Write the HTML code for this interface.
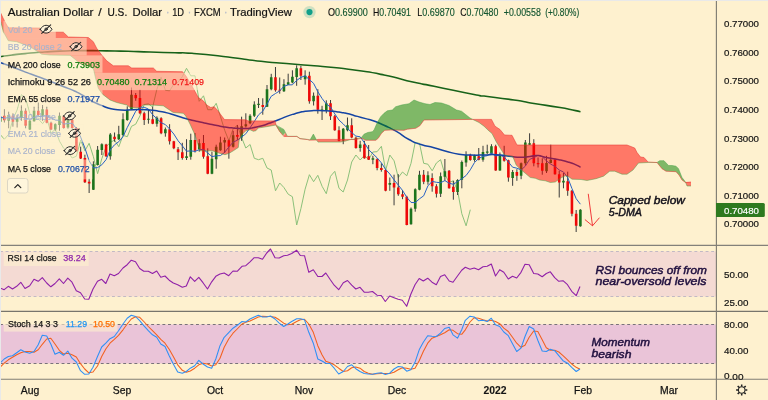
<!DOCTYPE html>
<html lang="en"><head><meta charset="utf-8"><title>Australian Dollar / U.S. Dollar</title>
<style>
html,body{margin:0;padding:0;background:#fef1cf;}
body{width:768px;height:400px;overflow:hidden;}
svg{display:block;}
text{font-family:"Liberation Sans","DejaVu Sans",sans-serif;}
</style></head><body>
<svg width="768" height="400" viewBox="0 0 768 400">
<rect x="0" y="0" width="768" height="400" fill="#fef1cf"/>
<g id="rsi-band">
<rect x="0" y="251.5" width="716" height="45" fill="#9915ff" fill-opacity="0.10"/>
<line x1="0" y1="251.5" x2="716" y2="251.5" stroke="#c2b9c4" stroke-width="1" stroke-dasharray="2.9,2.7"/>
<line x1="0" y1="296.5" x2="716" y2="296.5" stroke="#c2b9c4" stroke-width="1" stroke-dasharray="2.9,2.7"/>
</g>
<g id="stoch-band">
<rect x="0" y="324.5" width="716" height="39" fill="#9915ff" fill-opacity="0.20"/>
<line x1="0" y1="324.5" x2="716" y2="324.5" stroke="#78727a" stroke-width="1" stroke-dasharray="2.9,2.7"/>
<line x1="0" y1="363.5" x2="716" y2="363.5" stroke="#78727a" stroke-width="1" stroke-dasharray="2.9,2.7"/>
</g>
<g id="main" clip-path="url(#cm)">
<defs><clipPath id="cm"><rect x="0" y="0" width="716" height="245"/></clipPath></defs>
<path d="M-4.0,156.3 L0.2,134.5 L4.4,139.2 L8.7,134.2 L12.9,119.2 L17.1,110.0 L21.4,94.7 L25.6,98.3 L29.8,113.3 L34.1,120.0 L38.3,118.8 L42.6,123.7 L46.8,117.8 L51.0,133.3 L55.3,129.2 L59.5,141.2 L63.7,148.3 L68.0,152.2 L72.2,158.0 L76.4,156.2 L80.7,140.0 L84.9,150.8 L89.1,143.3 L93.4,156.7 L97.6,173.7 L101.8,158.7 L106.1,146.7 L110.3,142.5 L114.5,140.0 L118.8,146.7 L123.0,135.3 L127.3,136.7 L131.5,126.3 L135.7,124.2 L140.0,115.8 L144.2,104.5 L148.4,103.8 L152.7,107.0 L156.9,89.2 L161.1,77.2 L165.4,90.3 L169.6,90.8 L173.8,84.2 L178.1,82.2 L182.3,76.7 L186.5,68.3 L190.8,75.8 L195.0,75.8 L199.2,101.3 L203.5,95.8 L207.7,109.7 L212.0,109.7 L216.2,103.3 L220.4,116.3 L224.7,130.3 L228.9,140.8 L233.1,128.8 L237.4,125.3 L241.6,137.5 L245.8,148.0 L250.1,144.5 L254.3,158.3 L258.5,159.7 L262.8,158.3 L267.0,168.0 L271.2,170.0 L275.5,190.8 L279.7,183.0 L283.9,187.5 L288.2,194.2 L292.4,196.7 L296.7,225.0 L300.9,208.7 L305.1,189.2 L309.4,174.7 L313.6,181.7 L317.8,175.3 L322.1,186.3 L326.3,193.7 L330.5,176.3 L334.8,171.3 L339.0,188.3 L343.2,192.0 L347.5,180.0 L351.7,162.0 L355.9,155.0 L360.2,160.0 L364.4,155.3 L368.6,159.7 L372.9,152.0 L377.1,151.7 L381.4,146.3 L385.6,170.5 L389.8,155.0 L394.1,160.8 L398.3,177.5 L402.5,172.0 L406.8,175.8 L411.0,163.3 L415.2,142.5 L419.5,143.3 L423.7,163.3 L427.9,164.2 L432.2,170.8 L436.4,163.0 L440.6,159.7 L444.9,174.2 L449.1,182.5 L453.3,180.8 L457.6,190.8 L461.8,213.7 L466.1,225.8 L470.3,209.7" fill="none" stroke="#8cc17a" stroke-width="1" stroke-linejoin="round"/>
<path d="M0.20,115.0V123.3M4.44,109.2V122.5M8.67,111.7V128.3M12.91,113.3V126.7M17.14,115.0V127.5M21.38,105.3V120.8M25.61,108.3V128.3M29.85,120.0V130.0M34.08,106.7V121.7M38.32,102.5V115.8M42.55,105.0V120.8M46.79,106.7V123.3M51.02,121.7V130.0M55.26,123.3V130.8M59.49,112.5V130.8M63.73,115.8V128.7M67.96,119.2V128.7M72.20,119.2V128.7M76.43,127.0V151.7M80.67,146.7V159.0M84.90,154.7V183.0M89.14,178.8V193.0M93.37,161.3V190.0M97.61,146.0V165.5M101.84,143.3V155.0M106.08,143.8V157.0M110.31,133.0V159.7M114.55,132.5V141.7M118.78,125.8V140.0M123.02,113.3V135.8M127.25,106.3V120.8M131.49,87.5V109.7M135.72,93.0V100.8M139.96,89.7V114.2M144.19,111.7V125.0M148.43,109.2V123.7M152.66,106.7V124.2M156.90,116.3V126.7M161.13,117.2V134.2M165.37,127.5V136.7M169.60,124.2V144.5M173.84,140.8V149.2M178.07,147.0V160.0M182.31,142.8V159.7M186.54,139.2V160.0M190.78,133.7V159.7M195.01,133.0V152.5M199.25,139.2V151.7M203.48,135.0V158.7M207.72,148.3V174.2M211.95,151.7V174.2M216.19,144.7V168.7M220.42,136.7V150.8M224.66,137.5V153.0M228.89,139.7V158.7M233.13,130.8V147.5M237.36,125.0V140.0M241.60,116.7V140.8M245.83,113.3V127.5M250.07,114.2V124.2M254.30,101.3V117.0M258.54,98.0V108.0M262.77,98.3V114.7M267.01,85.0V107.0M271.24,73.8V90.3M275.48,67.0V91.7M279.71,77.5V93.7M283.95,79.2V92.0M288.18,73.7V85.0M292.42,70.3V83.3M296.65,65.3V85.8M300.89,65.8V80.0M305.12,70.3V84.7M309.36,71.7V103.7M313.59,92.5V105.5M317.83,89.2V113.7M322.06,105.8V120.0M326.30,100.3V113.3M330.53,100.0V120.0M334.77,115.0V130.8M339.00,126.3V141.3M343.24,128.0V144.2M347.47,117.5V131.3M351.71,118.3V138.3M355.94,136.7V148.7M360.18,140.8V151.7M364.41,140.8V158.7M368.65,145.0V160.0M372.88,155.8V164.2M377.12,158.3V170.3M381.35,163.3V171.7M385.59,169.2V191.3M389.82,177.5V190.8M394.06,174.7V205.3M398.29,174.2V195.8M402.53,190.0V199.2M406.76,195.8V225.3M411.00,207.5V224.7M415.23,188.3V211.7M419.47,170.8V190.3M423.70,170.0V184.2M427.94,171.3V184.7M432.17,173.3V191.7M436.41,184.2V197.5M440.64,172.5V197.0M444.88,159.0V180.8M449.12,170.0V188.7M453.35,180.8V199.7M457.58,179.2V195.0M461.82,160.5V188.3M466.05,151.3V166.7M470.29,153.7V160.8M474.52,154.7V161.7M478.76,148.0V160.3M483.00,145.8V161.7M487.23,144.7V154.2M491.46,144.2V153.8M495.70,144.7V170.8M499.93,152.5V170.8M504.17,145.8V161.7M508.40,159.7V181.7M512.64,170.0V185.8M516.88,169.2V180.8M521.11,162.5V179.2M525.35,140.0V165.8M529.58,133.3V145.0M533.81,139.2V166.3M538.05,157.5V167.5M542.28,158.3V174.7M546.52,155.8V173.0M550.75,144.7V163.3M554.99,158.7V174.7M559.23,170.8V197.5M563.46,173.0V188.3M567.69,171.7V195.8M571.93,190.0V216.3M576.16,210.0V232.0M580.40,209.2V226.7" stroke="#3c3c3c" stroke-width="1" fill="none"/>
<path d="M-1.10,116.7h2.6V121.7h-2.6ZM7.37,115.0h2.6V120.8h-2.6ZM15.84,117.5h2.6V121.7h-2.6ZM20.08,110.8h2.6V117.5h-2.6ZM28.55,120.8h2.6V129.5h-2.6ZM32.78,110.8h2.6V121.2h-2.6ZM41.25,109.2h2.6V115.8h-2.6ZM53.96,124.2h2.6V129.5h-2.6ZM58.19,115.8h2.6V125.0h-2.6ZM66.66,120.0h2.6V127.5h-2.6ZM92.07,164.3h2.6V189.7h-2.6ZM96.31,149.7h2.6V165.0h-2.6ZM100.54,144.2h2.6V150.0h-2.6ZM109.01,134.5h2.6V156.3h-2.6ZM117.48,134.2h2.6V139.2h-2.6ZM121.72,119.2h2.6V135.0h-2.6ZM125.95,110.0h2.6V120.0h-2.6ZM130.19,94.7h2.6V109.2h-2.6ZM147.13,118.7h2.6V119.8h-2.6ZM155.60,117.8h2.6V123.7h-2.6ZM164.07,129.2h2.6V133.3h-2.6ZM185.24,156.2h2.6V158.0h-2.6ZM189.48,140.0h2.6V156.7h-2.6ZM197.95,143.3h2.6V149.2h-2.6ZM210.65,158.7h2.6V173.7h-2.6ZM214.89,146.7h2.6V159.2h-2.6ZM219.12,142.5h2.6V150.3h-2.6ZM223.36,140.0h2.6V142.5h-2.6ZM231.83,135.3h2.6V146.7h-2.6ZM240.30,126.3h2.6V137.5h-2.6ZM244.53,124.2h2.6V126.3h-2.6ZM248.77,115.8h2.6V123.3h-2.6ZM253.00,104.5h2.6V115.8h-2.6ZM257.24,103.8h2.6V105.0h-2.6ZM265.71,89.2h2.6V106.7h-2.6ZM269.94,77.2h2.6V89.2h-2.6ZM282.65,84.2h2.6V91.3h-2.6ZM286.88,82.2h2.6V84.7h-2.6ZM291.12,76.7h2.6V82.5h-2.6ZM295.35,68.3h2.6V77.0h-2.6ZM303.82,75.8h2.6V79.2h-2.6ZM312.29,95.8h2.6V101.3h-2.6ZM320.76,109.5h2.6V110.7h-2.6ZM325.00,103.3h2.6V110.3h-2.6ZM341.94,128.8h2.6V140.5h-2.6ZM346.17,125.3h2.6V130.3h-2.6ZM358.88,144.5h2.6V148.0h-2.6ZM371.58,158.3h2.6V159.7h-2.6ZM388.52,183.0h2.6V184.7h-2.6ZM409.70,208.7h2.6V224.2h-2.6ZM413.93,189.2h2.6V208.7h-2.6ZM418.17,174.7h2.6V189.7h-2.6ZM426.64,175.3h2.6V181.7h-2.6ZM439.34,176.3h2.6V193.7h-2.6ZM443.58,171.3h2.6V176.7h-2.6ZM456.28,180.0h2.6V192.0h-2.6ZM460.52,162.0h2.6V179.7h-2.6ZM464.75,155.0h2.6V162.5h-2.6ZM473.22,155.3h2.6V160.0h-2.6ZM481.69,152.0h2.6V159.7h-2.6ZM485.93,151.6h2.6V152.8h-2.6ZM490.16,146.3h2.6V153.3h-2.6ZM498.63,155.0h2.6V170.5h-2.6ZM511.34,172.0h2.6V178.0h-2.6ZM519.81,163.3h2.6V175.8h-2.6ZM524.05,142.5h2.6V163.3h-2.6ZM528.28,143.3h2.6V144.7h-2.6ZM545.22,163.0h2.6V171.3h-2.6ZM549.46,159.7h2.6V163.0h-2.6ZM562.16,180.8h2.6V182.5h-2.6ZM579.10,209.7h2.6V226.3h-2.6Z" fill="#1c741c"/>
<path d="M3.14,115.8h2.6V120.3h-2.6ZM11.61,115.8h2.6V121.7h-2.6ZM24.31,110.8h2.6V125.8h-2.6ZM37.02,110.8h2.6V115.0h-2.6ZM45.49,109.5h2.6V122.8h-2.6ZM49.72,122.8h2.6V129.5h-2.6ZM62.43,116.3h2.6V128.0h-2.6ZM70.90,119.7h2.6V128.0h-2.6ZM75.13,128.0h2.6V151.3h-2.6ZM79.37,151.8h2.6V158.5h-2.6ZM83.60,158.0h2.6V182.2h-2.6ZM87.84,181.7h2.6V183.5h-2.6ZM104.78,144.5h2.6V156.3h-2.6ZM113.25,136.7h2.6V139.2h-2.6ZM134.42,95.0h2.6V98.3h-2.6ZM138.66,98.0h2.6V113.3h-2.6ZM142.89,113.3h2.6V120.0h-2.6ZM151.36,119.2h2.6V123.7h-2.6ZM159.83,118.3h2.6V133.3h-2.6ZM168.30,129.2h2.6V141.2h-2.6ZM172.54,141.2h2.6V148.3h-2.6ZM176.77,149.2h2.6V152.2h-2.6ZM181.01,152.2h2.6V158.0h-2.6ZM193.71,140.0h2.6V150.8h-2.6ZM202.18,143.0h2.6V156.7h-2.6ZM206.42,156.3h2.6V173.7h-2.6ZM227.59,140.3h2.6V146.7h-2.6ZM236.06,135.0h2.6V136.7h-2.6ZM261.47,105.0h2.6V107.0h-2.6ZM274.18,77.2h2.6V90.3h-2.6ZM278.41,89.7h2.6V90.8h-2.6ZM299.59,68.3h2.6V75.8h-2.6ZM308.06,75.8h2.6V101.3h-2.6ZM316.53,95.8h2.6V109.7h-2.6ZM329.23,103.3h2.6V116.3h-2.6ZM333.47,116.3h2.6V130.3h-2.6ZM337.70,130.3h2.6V140.8h-2.6ZM350.41,125.3h2.6V137.5h-2.6ZM354.64,137.8h2.6V148.0h-2.6ZM363.11,144.5h2.6V158.3h-2.6ZM367.35,156.3h2.6V159.7h-2.6ZM375.82,159.2h2.6V168.0h-2.6ZM380.05,168.0h2.6V170.0h-2.6ZM384.29,170.0h2.6V190.8h-2.6ZM392.76,183.0h2.6V187.5h-2.6ZM396.99,187.5h2.6V194.2h-2.6ZM401.23,194.2h2.6V196.7h-2.6ZM405.46,196.7h2.6V225.0h-2.6ZM422.40,174.7h2.6V181.7h-2.6ZM430.87,178.0h2.6V186.3h-2.6ZM435.11,186.3h2.6V193.7h-2.6ZM447.81,170.8h2.6V188.3h-2.6ZM452.05,186.7h2.6V192.0h-2.6ZM468.99,155.0h2.6V160.0h-2.6ZM477.46,156.2h2.6V159.7h-2.6ZM494.40,146.3h2.6V170.5h-2.6ZM502.87,155.8h2.6V160.8h-2.6ZM507.10,160.3h2.6V177.5h-2.6ZM515.58,172.0h2.6V175.8h-2.6ZM532.51,143.3h2.6V163.3h-2.6ZM536.75,163.0h2.6V164.2h-2.6ZM540.99,163.3h2.6V170.8h-2.6ZM553.69,159.7h2.6V174.2h-2.6ZM557.93,174.2h2.6V182.5h-2.6ZM566.39,181.3h2.6V190.8h-2.6ZM570.63,190.8h2.6V213.7h-2.6ZM574.87,213.7h2.6V225.8h-2.6Z" fill="#ee0808"/>
<path d="M0.2,116.7 L4.4,118.5 L8.7,117.3 L12.9,118.4 L17.1,118.2 L21.4,117.1 L25.6,118.2 L29.8,119.3 L34.1,117.2 L38.3,116.7 L42.6,116.3 L46.8,115.7 L51.0,117.5 L55.3,120.1 L59.5,120.3 L63.7,124.1 L68.0,123.5 L72.2,123.2 L76.4,128.6 L80.7,137.2 L84.9,148.0 L89.1,160.7 L93.4,168.0 L97.6,167.6 L101.8,164.8 L106.1,159.6 L110.3,149.8 L114.5,144.8 L118.8,141.7 L123.0,136.7 L127.3,127.4 L131.5,119.4 L135.7,111.3 L140.0,107.1 L144.2,107.3 L148.4,109.0 L152.7,114.8 L156.9,118.7 L161.1,122.7 L165.4,124.6 L169.6,129.0 L173.8,134.0 L178.1,140.8 L182.3,145.8 L186.5,151.2 L190.8,150.9 L195.0,151.4 L199.2,149.7 L203.5,149.4 L207.7,152.9 L212.0,156.6 L216.2,155.8 L220.4,155.6 L224.7,152.3 L228.9,146.9 L233.1,142.2 L237.4,140.2 L241.6,137.0 L245.8,133.8 L250.1,127.7 L254.3,121.5 L258.5,114.9 L262.8,111.1 L267.0,104.1 L271.2,96.3 L275.5,93.5 L279.7,90.9 L283.9,86.3 L288.2,84.9 L292.4,84.8 L296.7,80.4 L300.9,77.4 L305.1,75.8 L309.4,79.6 L313.6,83.4 L317.8,91.7 L322.1,98.5 L326.3,104.0 L330.5,107.0 L334.8,113.9 L339.0,120.1 L343.2,123.9 L347.5,128.3 L351.7,132.6 L355.9,136.1 L360.2,136.8 L364.4,142.7 L368.6,149.6 L372.9,153.8 L377.1,157.8 L381.4,162.9 L385.6,169.4 L389.8,174.0 L394.1,179.9 L398.3,185.1 L402.5,190.4 L406.8,197.3 L411.0,202.4 L415.2,202.7 L419.5,198.8 L423.7,195.8 L427.9,185.9 L432.2,181.4 L436.4,182.3 L440.6,182.7 L444.9,180.6 L449.1,183.2 L453.3,184.3 L457.6,181.6 L461.8,178.7 L466.1,175.5 L470.3,169.8 L474.5,162.5 L478.8,158.4 L483.0,156.4 L487.2,155.7 L491.5,153.0 L495.7,156.0 L499.9,155.1 L504.2,156.9 L508.4,162.0 L512.6,167.2 L516.9,168.2 L521.1,169.9 L525.3,166.2 L529.6,159.4 L533.8,157.7 L538.0,155.3 L542.3,156.8 L546.5,160.9 L550.8,164.2 L555.0,166.4 L559.2,170.0 L563.5,172.0 L567.7,177.6 L571.9,188.4 L576.2,198.7 L580.4,204.2" fill="none" stroke="#2962c4" stroke-width="1" stroke-linejoin="round"/>
<path d="M0.0,62.5C4.2,64.0 4.2,63.9 12.5,67.0C20.8,70.1 16.7,68.7 25.0,71.9C33.3,75.1 29.2,73.4 37.5,76.5C45.8,79.6 41.7,78.0 50.0,81.2C58.3,84.4 54.2,82.8 62.5,86.2C70.8,89.6 68.2,88.2 75.0,91.3C81.8,94.4 78.0,92.6 83.0,95.5C88.0,98.4 85.7,97.5 90.0,100.0C94.3,102.5 91.5,101.0 96.0,103.1C100.5,105.2 98.5,104.3 103.5,106.2C108.5,108.1 105.2,107.4 111.0,108.7C116.8,110.0 113.5,109.6 121.0,110.0C128.5,110.4 125.2,109.9 133.5,109.8C141.8,109.7 137.7,109.3 146.0,109.8C154.3,110.3 150.2,109.8 158.5,111.2C166.8,112.6 162.7,111.7 171.0,114.0C179.3,116.3 176.5,115.9 183.5,118.0C190.5,120.1 186.5,118.9 192.0,120.2C197.5,121.5 194.7,120.8 200.0,122.0C205.3,123.2 202.3,122.5 208.0,123.7C213.7,124.9 211.3,124.5 217.0,125.6C222.7,126.7 219.7,126.2 225.0,127.0C230.3,127.8 227.3,127.5 233.0,128.0C238.7,128.5 236.3,128.5 242.0,128.6C247.7,128.7 246.0,128.6 250.0,128.2C254.0,127.8 250.0,128.3 254.0,127.5C258.0,126.7 256.7,127.2 262.0,125.7C267.3,124.2 265.3,124.6 270.0,123.0C274.7,121.4 271.8,122.4 276.0,120.8C280.2,119.2 278.2,119.8 282.5,118.1C286.8,116.4 284.6,117.1 288.8,115.6C293.0,114.1 291.3,114.8 295.0,113.7C298.7,112.6 296.7,113.1 300.0,112.3C303.3,111.5 300.4,111.9 305.0,111.3C309.6,110.7 308.7,110.8 313.7,110.6C318.7,110.4 315.9,110.5 320.0,110.6C324.1,110.7 321.8,110.6 326.0,110.8C330.2,111.0 328.2,110.9 332.5,111.3C336.8,111.7 334.8,111.5 339.0,112.1C343.2,112.7 341.0,112.3 345.0,113.1C349.0,113.9 346.8,113.5 351.0,114.6C355.2,115.7 352.6,115.1 357.5,116.4C362.4,117.7 360.2,117.1 365.7,118.6C371.2,120.1 367.9,118.8 374.0,121.0C380.1,123.2 376.7,121.9 384.0,125.3C391.3,128.7 387.7,126.5 396.0,131.2C404.3,135.9 400.7,135.1 409.0,139.5C417.3,143.9 412.7,141.8 421.0,144.5C429.3,147.2 425.7,145.5 434.0,147.7C442.3,149.9 437.7,149.0 446.0,151.2C454.3,153.4 450.7,152.9 459.0,154.2C467.3,155.5 462.7,154.7 471.0,155.0C479.3,155.3 475.7,155.1 484.0,155.0C492.3,154.9 487.7,154.3 496.0,154.7C504.3,155.1 500.7,155.3 509.0,156.2C517.3,157.1 514.0,157.2 521.0,157.3C528.0,157.4 524.3,157.0 530.0,156.4C535.7,155.8 532.7,155.3 538.0,155.6C543.3,155.9 539.0,156.0 546.0,157.4C553.0,158.8 551.4,158.1 559.0,159.7C566.6,161.3 563.0,160.5 568.7,162.2C574.4,163.9 572.1,163.2 576.0,164.9C579.9,166.6 579.0,166.5 580.5,167.3" fill="none" stroke="#1444a4" stroke-width="1.5" stroke-linejoin="round"/>
<path d="M0.0,56.8C4.0,56.2 3.7,56.1 12.0,55.0C20.3,53.9 15.7,54.5 25.0,53.6C34.3,52.7 30.0,53.0 40.0,52.3C50.0,51.6 45.0,51.9 55.0,51.4C65.0,50.9 60.0,51.1 70.0,50.8C80.0,50.5 75.0,50.6 85.0,50.6C95.0,50.6 90.0,50.7 100.0,50.8C110.0,50.9 105.7,50.8 115.0,51.0C124.3,51.2 116.3,51.0 128.0,51.3C139.7,51.6 134.3,51.5 150.0,52.0C165.7,52.5 161.0,52.4 175.0,52.8C189.0,53.2 174.3,51.9 192.0,53.3C209.7,54.7 205.0,54.3 228.0,57.0C251.0,59.7 238.7,58.9 261.0,61.3C283.3,63.7 272.7,62.3 295.0,64.2C317.3,66.1 307.7,65.0 328.0,67.0C348.3,69.0 337.3,67.6 356.0,70.3C374.7,73.0 364.7,71.0 384.0,75.0C403.3,79.0 397.3,78.6 414.0,82.3C430.7,86.0 414.0,82.1 434.0,86.2C454.0,90.3 457.3,91.2 474.0,94.5C490.7,97.8 470.7,94.2 484.0,96.0C497.3,97.8 497.3,97.5 514.0,100.0C530.7,102.5 518.7,101.0 534.0,103.5C549.3,106.0 544.5,104.8 560.0,107.5C575.5,110.2 573.7,110.3 580.5,111.7" fill="none" stroke="#176219" stroke-width="1.6" stroke-linejoin="round"/>
<path d="M0.6,12.8 L3.0,18.0 L5.0,22.0 L7.0,25.5 L8.8,27.8 L40.0,28.0 L41.7,32.2 L63.3,32.2 L68.3,37.0 L88.3,37.5 L93.3,41.7 L96.7,48.3 L101.7,55.0 L106.7,60.8 L113.3,65.8 L128.3,65.8 L131.7,68.0 L153.3,68.0 L156.7,71.3 L182.5,71.7 L185.8,75.8 L190.0,82.5 L194.2,90.0 L198.3,97.5 L203.3,100.8 L206.7,105.0 L210.8,107.5 L214.2,106.7 L218.0,110.8 L221.0,115.0 L224.5,119.6 L246.0,119.8 L248.0,120.9 L275.0,120.9 L276.0,125.0 L276.0,125.0 L266.7,126.7 L258.3,128.0 L255.8,130.8 L253.3,131.3 L250.0,129.7 L245.8,130.8 L241.7,135.0 L239.2,140.0 L238.3,147.5 L233.3,150.8 L229.2,153.3 L225.0,154.7 L216.7,152.5 L212.5,150.8 L200.0,150.8 L195.0,135.0 L190.0,124.0 L185.8,116.0 L183.3,113.3 L173.3,112.5 L168.3,109.2 L163.3,105.8 L151.7,105.0 L143.3,105.0 L140.0,108.0 L130.0,107.5 L126.7,105.0 L116.7,102.5 L110.0,100.0 L102.5,94.2 L98.3,88.3 L95.5,78.0 L93.3,68.3 L80.0,63.3 L70.0,55.3 L50.0,55.0 L41.7,54.2 L30.0,46.7 L16.7,41.7 L8.3,40.8 L3.3,31.7 L0.8,21.7Z" fill="#ff0000" fill-opacity="0.5"/>
<path d="M275.6,125.2 L283.8,129.4 L285.3,132.5 L283.1,135.6 L279.4,131.2Z" fill="#008000" fill-opacity="0.5"/>
<path d="M285.3,132.5 L287.5,136.4 L283.5,136.4Z" fill="#ff0000" fill-opacity="0.5"/>
<path d="M310.0,140.0 L313.4,134.1 L316.5,140.0Z" fill="#008000" fill-opacity="0.5"/>
<path d="M316.5,139.4 L348.0,139.4 L350.0,139.7 L345.0,141.2 L340.0,142.1 L318.0,142.1Z" fill="#ff0000" fill-opacity="0.5"/>
<path d="M350.0,139.7 L355.0,139.0 L361.5,137.8 L355.0,139.7Z" fill="#008000" fill-opacity="0.5"/>
<path d="M361.5,137.5 L364.0,134.2 L367.7,132.5 L372.3,131.7 L374.0,130.0 L377.3,122.5 L380.7,116.7 L384.0,113.3 L387.3,110.8 L392.3,110.0 L395.7,106.7 L399.0,105.8 L401.5,105.0 L409.0,103.7 L414.0,100.0 L419.0,102.0 L425.0,103.7 L430.0,104.5 L435.0,102.5 L441.5,103.0 L449.0,105.5 L456.5,110.0 L461.5,111.2 L470.0,118.0 L472.7,119.4 L472.7,119.4 L452.0,119.7 L424.0,120.0 L419.8,125.8 L415.7,128.3 L407.3,129.2 L404.0,130.3 L390.7,130.0 L384.8,130.3 L381.5,133.3 L378.2,138.3 L375.7,140.3 L365.7,140.3 L361.5,138.3Z" fill="#008000" fill-opacity="0.5"/>
<path d="M472.7,119.4 L491.5,119.4 L495.0,126.2 L500.0,129.5 L504.5,135.0 L512.0,135.3 L517.0,145.0 L627.0,145.0 L634.7,148.0 L637.0,152.5 L640.5,157.0 L644.0,157.5 L648.0,162.0 L648.0,162.5 L638.5,163.0 L633.0,170.0 L627.0,174.2 L622.0,174.2 L614.7,171.2 L609.7,171.2 L603.5,176.2 L596.0,178.7 L587.0,180.5 L581.0,179.5 L572.0,179.2 L568.7,176.7 L565.3,175.8 L560.3,178.3 L555.3,182.0 L550.3,182.5 L545.3,180.8 L539.5,180.0 L535.3,178.3 L530.3,177.5 L525.3,173.3 L520.3,169.2 L516.2,165.0 L512.8,156.7 L504.5,155.0 L500.3,148.3 L496.2,141.7 L492.0,133.5 L489.0,131.0 L484.0,126.2 L479.0,122.5 L472.7,119.4Z" fill="#ff0000" fill-opacity="0.5"/>
<path d="M657.0,162.5 L659.7,160.7 L664.0,160.7 L668.5,165.5 L672.0,165.5 L676.0,166.2 L678.5,168.7 L682.0,177.5 L685.5,182.0 L685.5,182.5 L682.0,180.0 L679.0,175.0 L676.0,171.7 L666.0,171.2 L662.0,168.7 L657.0,162.5Z" fill="#008000" fill-opacity="0.5"/>
<path d="M685.5,182.0 L691.0,182.0 L691.0,186.0 L687.0,186.0Z" fill="#ff0000" fill-opacity="0.5"/>
<path d="M0.8,21.7 L3.3,31.7 L8.3,40.8 L16.7,41.7 L30.0,46.7 L41.7,54.2 L50.0,55.0 L70.0,55.3 L80.0,63.3 L93.3,68.3 L95.5,78.0 L98.3,88.3 L102.5,94.2 L110.0,100.0 L116.7,102.5 L126.7,105.0 L130.0,107.5 L140.0,108.0 L143.3,105.0 L151.7,105.0 L163.3,105.8 L168.3,109.2 L173.3,112.5 L183.3,113.3 L185.8,116.0 L190.0,124.0 L195.0,135.0 L200.0,150.8 L212.5,150.8 L216.7,152.5 L225.0,154.7 L229.2,153.3 L233.3,150.8 L238.3,147.5 L239.2,140.0 L241.7,135.0 L245.8,130.8 L250.0,129.7 L253.3,131.3 L255.8,130.8 L258.3,128.0 L266.7,126.7 L276.0,125.0 L283.8,129.4 L287.5,136.3 L296.9,136.3 L300.0,138.5 L307.5,139.4 L310.0,140.0 L313.4,134.1 L316.5,140.0 L318.0,142.1 L340.0,142.1 L345.0,141.2 L350.0,139.7 L355.0,139.0 L361.5,137.5 L364.0,134.2 L367.7,132.5 L372.3,131.7 L374.0,130.0 L377.3,122.5 L380.7,116.7 L384.0,113.3 L387.3,110.8 L392.3,110.0 L395.7,106.7 L399.0,105.8 L401.5,105.0 L409.0,103.7 L414.0,100.0 L419.0,102.0 L425.0,103.7 L430.0,104.5 L435.0,102.5 L441.5,103.0 L449.0,105.5 L456.5,110.0 L461.5,111.2 L470.0,118.0 L472.7,119.4 L479.0,122.5 L484.0,126.2 L489.0,131.0 L492.0,133.5 L496.2,141.7 L500.3,148.3 L504.5,155.0 L512.8,156.7 L516.2,165.0 L520.3,169.2 L525.3,173.3 L530.3,177.5 L535.3,178.3 L539.5,180.0 L545.3,180.8 L550.3,182.5 L555.3,182.0 L560.3,178.3 L565.3,175.8 L568.7,176.7 L572.0,179.2 L581.0,179.5 L587.0,180.5 L596.0,178.7 L603.5,176.2 L609.7,171.2 L614.7,171.2 L622.0,174.2 L627.0,174.2 L633.0,170.0 L638.5,163.0 L648.0,162.5 L657.0,162.5 L659.7,160.7 L664.0,160.7 L668.5,165.5 L672.0,165.5 L676.0,166.2 L678.5,168.7 L682.0,177.5 L685.5,182.0 L687.0,186.0 L691.0,186.0" fill="none" stroke="#43a047" stroke-opacity="0.6" stroke-width="0.8" stroke-linejoin="round"/>
<path d="M0.6,12.8 L3.0,18.0 L5.0,22.0 L7.0,25.5 L8.8,27.8 L40.0,28.0 L41.7,32.2 L63.3,32.2 L68.3,37.0 L88.3,37.5 L93.3,41.7 L96.7,48.3 L101.7,55.0 L106.7,60.8 L113.3,65.8 L128.3,65.8 L131.7,68.0 L153.3,68.0 L156.7,71.3 L182.5,71.7 L185.8,75.8 L190.0,82.5 L194.2,90.0 L198.3,97.5 L203.3,100.8 L206.7,105.0 L210.8,107.5 L214.2,106.7 L218.0,110.8 L221.0,115.0 L224.5,119.6 L246.0,119.8 L248.0,120.9 L275.0,120.9 L276.0,125.0 L279.4,131.2 L283.1,135.6 L284.4,136.5 L287.5,136.5 L296.9,136.5 L300.0,138.7 L307.5,139.6 L310.0,140.2 L316.5,140.0 L318.0,139.4 L348.0,139.4 L355.0,139.6 L361.5,138.3 L365.7,140.3 L375.7,140.3 L378.2,138.3 L381.5,133.3 L384.8,130.3 L390.7,130.0 L404.0,130.3 L407.3,129.2 L415.7,128.3 L419.8,125.8 L424.0,120.0 L452.0,119.7 L472.7,119.4 L491.5,119.4 L495.0,126.2 L500.0,129.5 L504.5,135.0 L512.0,135.3 L517.0,145.0 L627.0,145.0 L634.7,148.0 L637.0,152.5 L640.5,157.0 L644.0,157.5 L648.0,162.0 L657.0,162.5 L662.0,168.7 L666.0,171.2 L676.0,171.7 L679.0,175.0 L682.0,180.0 L685.5,182.5 L691.0,182.0" fill="none" stroke="#e53935" stroke-opacity="0.7" stroke-width="0.8" stroke-linejoin="round"/>
<path d="M588.3,194.2L592.5,225.6M585.2,219.8L592.5,225.8L599.2,218" fill="none" stroke="#f23a3a" stroke-width="1" stroke-linecap="round" stroke-linejoin="round"/>
</g>
<path d="M0.0,288.0 L4.2,289.7 L8.3,286.3 L12.5,289.0 L16.7,286.3 L20.8,282.3 L25.0,288.5 L29.7,285.7 L34.0,279.3 L38.2,281.3 L42.3,277.7 L46.7,283.0 L50.8,286.8 L55.0,283.5 L59.3,278.8 L63.5,283.5 L67.8,278.2 L72.0,282.2 L76.3,290.7 L80.5,292.7 L84.7,299.0 L88.8,299.3 L93.0,289.0 L97.5,281.3 L101.7,279.3 L105.8,283.5 L110.0,274.0 L114.3,275.7 L118.5,273.5 L123.0,268.0 L127.2,264.7 L131.3,260.2 L135.5,261.8 L139.7,268.5 L143.8,271.3 L148.3,271.3 L152.5,273.5 L156.7,271.0 L160.8,277.3 L165.0,276.0 L169.2,280.2 L173.3,283.0 L177.7,284.7 L182.3,287.2 L186.3,286.0 L190.3,276.8 L194.7,281.3 L198.8,277.3 L203.0,282.7 L207.5,289.0 L211.7,281.8 L215.8,276.3 L220.0,274.0 L224.2,273.0 L228.7,275.7 L233.0,271.0 L237.2,271.3 L242.0,266.3 L245.8,265.7 L250.0,261.8 L254.2,257.7 L258.3,257.7 L262.5,259.3 L266.7,253.0 L270.5,249.0 L275.0,257.7 L279.2,258.0 L283.7,255.7 L287.5,255.2 L291.7,253.5 L296.7,250.2 L300.3,255.5 L304.5,255.7 L308.8,272.3 L313.3,269.7 L317.8,276.5 L322.0,276.5 L325.8,273.0 L330.0,279.3 L334.2,285.2 L338.7,289.7 L343.3,282.7 L347.5,280.5 L351.7,285.2 L355.8,289.0 L360.0,287.3 L364.2,292.2 L368.3,292.3 L372.5,291.5 L377.0,295.2 L381.2,295.5 L385.3,301.5 L389.7,296.0 L394.0,297.7 L398.2,299.3 L402.3,300.2 L406.7,306.3 L410.8,294.3 L415.0,284.7 L419.2,278.5 L423.3,281.0 L427.7,278.2 L432.0,282.2 L436.3,284.7 L440.5,276.5 L444.7,274.7 L449.2,281.0 L453.0,282.3 L457.5,276.0 L461.7,270.2 L465.3,267.3 L470.0,269.3 L474.2,268.0 L478.5,269.7 L483.0,266.8 L487.2,266.3 L491.3,264.0 L495.5,276.0 L499.7,269.7 L503.8,272.2 L508.3,279.0 L512.5,276.3 L516.7,278.0 L521.0,272.3 L525.0,264.3 L529.2,264.8 L533.7,273.5 L537.8,274.0 L542.2,276.8 L546.3,273.5 L550.3,271.8 L554.7,277.7 L558.8,281.3 L563.0,280.7 L567.5,284.7 L571.7,291.3 L576.2,295.7 L580.0,286.5" fill="none" stroke="#9020a8" stroke-width="1.1" stroke-linejoin="round"/>
<path d="M0.0,367.3 L4.2,363.2 L8.3,359.8 L12.5,357.3 L16.7,354.8 L20.8,352.7 L25.0,351.5 L29.7,351.5 L34.0,352.3 L38.2,349.8 L42.3,344.3 L46.7,339.0 L50.8,338.2 L55.0,344.0 L59.3,350.3 L63.5,354.0 L67.8,353.2 L72.0,354.8 L76.3,357.0 L80.5,363.7 L84.7,369.0 L88.8,372.8 L93.0,372.0 L97.5,366.0 L101.7,356.5 L105.8,349.0 L110.0,343.2 L114.3,339.3 L118.5,335.3 L123.0,329.8 L127.2,324.0 L131.3,319.0 L135.5,316.8 L139.7,317.3 L143.8,321.5 L148.3,326.5 L152.5,330.7 L156.7,334.8 L160.8,339.3 L165.0,343.2 L169.2,349.3 L173.3,356.5 L177.7,364.8 L182.3,370.3 L186.3,372.3 L190.3,371.0 L194.7,368.2 L198.8,364.8 L203.0,363.2 L207.5,364.0 L211.7,366.0 L215.8,364.8 L220.0,358.2 L224.2,347.3 L228.7,339.0 L233.0,333.2 L237.2,329.0 L242.0,324.0 L245.8,322.3 L250.0,321.0 L254.2,319.0 L258.3,317.0 L262.5,316.2 L266.7,316.5 L270.5,316.5 L275.0,317.3 L279.2,319.8 L283.7,323.2 L287.5,324.8 L291.7,324.3 L296.7,321.5 L300.3,319.8 L304.5,319.3 L308.8,324.0 L313.3,332.3 L317.8,345.7 L322.0,354.8 L325.8,361.2 L330.0,362.8 L334.2,364.8 L338.7,368.2 L343.3,371.5 L347.5,370.7 L351.7,367.7 L355.8,367.0 L360.0,368.2 L364.2,371.5 L368.3,373.2 L372.5,374.3 L377.0,373.7 L381.2,373.5 L385.3,373.5 L389.7,373.5 L394.0,372.3 L398.2,369.8 L402.3,367.7 L406.7,368.2 L410.8,369.3 L415.0,368.2 L419.2,360.7 L423.3,351.5 L427.7,343.2 L432.0,338.2 L436.3,336.5 L440.5,334.8 L444.7,332.7 L449.2,329.8 L453.0,330.3 L457.5,333.7 L461.7,334.3 L465.3,329.8 L470.0,322.0 L474.2,317.7 L478.5,318.2 L483.0,319.8 L487.2,321.0 L491.3,320.3 L495.5,321.5 L499.7,323.7 L503.8,328.2 L508.3,331.5 L512.5,337.3 L516.7,343.2 L521.0,347.3 L525.0,345.3 L529.2,337.3 L533.7,331.0 L537.8,331.5 L542.2,339.8 L546.3,347.8 L550.3,350.3 L554.7,350.2 L558.8,352.0 L563.0,355.7 L567.5,359.8 L571.7,364.0 L576.2,367.3 L580.0,369.3" fill="none" stroke="#f2601f" stroke-width="1.05" stroke-linejoin="round"/>
<path d="M0.0,363.2 L4.2,359.0 L8.3,356.5 L12.5,355.7 L16.7,352.7 L20.8,349.8 L25.0,352.0 L29.7,353.2 L34.0,351.5 L38.2,344.8 L42.3,335.2 L46.7,336.0 L50.8,344.0 L55.0,354.3 L59.3,352.3 L63.5,355.3 L67.8,351.0 L72.0,358.2 L76.3,362.0 L80.5,370.7 L84.7,374.3 L88.8,374.0 L93.0,367.3 L97.5,356.5 L101.7,347.0 L105.8,343.2 L110.0,338.7 L114.3,336.5 L118.5,330.7 L123.0,324.0 L127.2,318.2 L131.3,315.3 L135.5,316.5 L139.7,320.7 L143.8,325.7 L148.3,330.7 L152.5,334.8 L156.7,337.3 L160.8,344.0 L165.0,346.5 L169.2,355.7 L173.3,364.0 L177.7,372.0 L182.3,373.2 L186.3,371.5 L190.3,368.2 L194.7,365.7 L198.8,360.3 L203.0,364.0 L207.5,367.0 L211.7,368.2 L215.8,359.0 L220.0,345.7 L224.2,337.3 L228.7,332.7 L233.0,328.2 L237.2,325.3 L242.0,321.5 L245.8,322.0 L250.0,319.0 L254.2,317.0 L258.3,315.3 L262.5,317.0 L266.7,317.0 L270.5,316.0 L275.0,319.0 L279.2,323.2 L283.7,326.5 L287.5,324.3 L291.7,321.5 L296.7,318.7 L300.3,318.7 L304.5,319.8 L308.8,332.3 L313.3,343.2 L317.8,359.0 L322.0,361.0 L325.8,363.2 L330.0,363.5 L334.2,368.2 L338.7,374.0 L343.3,371.5 L347.5,366.5 L351.7,364.8 L355.8,368.7 L360.0,371.5 L364.2,373.5 L368.3,374.0 L372.5,374.3 L377.0,373.2 L381.2,372.8 L385.3,374.5 L389.7,373.2 L394.0,369.0 L398.2,366.5 L402.3,367.0 L406.7,371.2 L410.8,369.8 L415.0,362.3 L419.2,349.8 L423.3,342.3 L427.7,335.7 L432.0,336.2 L436.3,336.5 L440.5,333.2 L444.7,328.5 L449.2,327.3 L453.0,334.8 L457.5,338.2 L461.7,329.8 L465.3,320.3 L470.0,316.2 L474.2,317.0 L478.5,320.7 L483.0,320.3 L487.2,321.5 L491.3,318.2 L495.5,324.8 L499.7,326.5 L503.8,332.0 L508.3,335.7 L512.5,343.7 L516.7,351.5 L521.0,348.2 L525.0,336.5 L529.2,326.5 L533.7,329.0 L537.8,340.3 L542.2,351.0 L546.3,351.5 L550.3,349.3 L554.7,350.7 L558.8,355.7 L563.0,360.7 L567.5,363.2 L571.7,367.3 L576.2,371.5 L580.0,369.0" fill="none" stroke="#2f8ff5" stroke-width="1.05" stroke-linejoin="round"/>
<g id="legend">
<rect x="3.5" y="20.7" width="52.3" height="17.35" fill="#fef1cf" fill-opacity="0.5"/>
<rect x="3.5" y="38.0" width="83.2" height="17.35" fill="#fef1cf" fill-opacity="0.5"/>
<rect x="3.5" y="55.4" width="99.0" height="17.35" fill="#fef1cf" fill-opacity="0.5"/>
<rect x="3.5" y="72.8" width="204.5" height="17.35" fill="#fef1cf" fill-opacity="0.5"/>
<rect x="3.5" y="90.1" width="99.0" height="17.35" fill="#fef1cf" fill-opacity="0.5"/>
<rect x="3.5" y="107.5" width="75.0" height="17.35" fill="#fef1cf" fill-opacity="0.5"/>
<rect x="3.5" y="124.8" width="80.0" height="17.35" fill="#fef1cf" fill-opacity="0.5"/>
<rect x="3.5" y="142.1" width="75.0" height="17.35" fill="#fef1cf" fill-opacity="0.5"/>
<rect x="3.5" y="159.5" width="89.0" height="19.9" fill="#fef1cf" fill-opacity="0.5"/>
<text x="7.7" y="33.00" transform="rotate(0.02 7.7 33.00)" font-size="9.7" fill="#a9b3cc" stroke="#a9b3cc" stroke-width="0.15" textLength="24.8" lengthAdjust="spacingAndGlyphs">Vol 20</text>
<g transform="translate(46.1,29.1)" fill="none" stroke="#2a2a2a" stroke-width="1.0" stroke-linecap="round" stroke-linejoin="round"><path d="M-5.9,0.2C-4.4,-2.2 -2.4,-3.8 0,-3.8C2.4,-3.8 4.4,-2.2 5.9,0.2C4.4,2.6 2.4,4 0,4C-2.4,4 -4.4,2.6 -5.9,0.2Z" fill="#fff8e6" fill-opacity="0.55"/><circle cx="0" cy="0.1" r="1.2"/><path d="M-4.4,4.2L4.6,-4.2" stroke-width="1.1"/></g>
<text x="7.7" y="50.35" transform="rotate(0.02 7.7 50.35)" font-size="9.7" fill="#a9b3cc" stroke="#a9b3cc" stroke-width="0.15" textLength="54.3" lengthAdjust="spacingAndGlyphs">BB 20 close 2</text>
<g transform="translate(76.1,46.5)" fill="none" stroke="#2a2a2a" stroke-width="1.0" stroke-linecap="round" stroke-linejoin="round"><path d="M-5.9,0.2C-4.4,-2.2 -2.4,-3.8 0,-3.8C2.4,-3.8 4.4,-2.2 5.9,0.2C4.4,2.6 2.4,4 0,4C-2.4,4 -4.4,2.6 -5.9,0.2Z" fill="#fff8e6" fill-opacity="0.55"/><circle cx="0" cy="0.1" r="1.2"/><path d="M-4.4,4.2L4.6,-4.2" stroke-width="1.1"/></g>
<text x="7.7" y="67.70" transform="rotate(0.02 7.7 67.70)" font-size="9.7" fill="#141414" stroke="#141414" stroke-width="0.25" textLength="53.1" lengthAdjust="spacingAndGlyphs">MA 200 close</text>
<text x="67.5" y="67.70" transform="rotate(0.02 67.5 67.70)" font-size="9.7" fill="#0c7d0c" stroke="#0c7d0c" stroke-width="0.25" textLength="32.5" lengthAdjust="spacingAndGlyphs">0.73903</text>
<text x="7.7" y="85.05" transform="rotate(0.02 7.7 85.05)" font-size="9.7" fill="#141414" stroke="#141414" stroke-width="0.25" textLength="83.3" lengthAdjust="spacingAndGlyphs">Ichimoku 9 26 52 26</text>
<text x="97.0" y="85.05" transform="rotate(0.02 97.0 85.05)" font-size="9.7" fill="#0c7d0c" stroke="#0c7d0c" stroke-width="0.25" textLength="32.5" lengthAdjust="spacingAndGlyphs">0.70480</text>
<text x="134.5" y="85.05" transform="rotate(0.02 134.5 85.05)" font-size="9.7" fill="#0c7d0c" stroke="#0c7d0c" stroke-width="0.25" textLength="32.5" lengthAdjust="spacingAndGlyphs">0.71314</text>
<text x="172.0" y="85.05" transform="rotate(0.02 172.0 85.05)" font-size="9.7" fill="#f01818" stroke="#f01818" stroke-width="0.25" textLength="32.0" lengthAdjust="spacingAndGlyphs">0.71409</text>
<text x="7.7" y="102.40" transform="rotate(0.02 7.7 102.40)" font-size="9.7" fill="#141414" stroke="#141414" stroke-width="0.25" textLength="53.1" lengthAdjust="spacingAndGlyphs">EMA 55 close</text>
<text x="67.5" y="102.40" transform="rotate(0.02 67.5 102.40)" font-size="9.7" fill="#1f4fa8" stroke="#1f4fa8" stroke-width="0.25" textLength="32.5" lengthAdjust="spacingAndGlyphs">0.71977</text>
<text x="7.7" y="119.75" transform="rotate(0.02 7.7 119.75)" font-size="9.7" fill="#a9b3cc" stroke="#a9b3cc" stroke-width="0.15" textLength="48.3" lengthAdjust="spacingAndGlyphs">MA 10 close</text>
<g transform="translate(69.6,115.8)" fill="none" stroke="#2a2a2a" stroke-width="1.0" stroke-linecap="round" stroke-linejoin="round"><path d="M-5.9,0.2C-4.4,-2.2 -2.4,-3.8 0,-3.8C2.4,-3.8 4.4,-2.2 5.9,0.2C4.4,2.6 2.4,4 0,4C-2.4,4 -4.4,2.6 -5.9,0.2Z" fill="#fff8e6" fill-opacity="0.55"/><circle cx="0" cy="0.1" r="1.2"/><path d="M-4.4,4.2L4.6,-4.2" stroke-width="1.1"/></g>
<text x="7.7" y="137.10" transform="rotate(0.02 7.7 137.10)" font-size="9.7" fill="#a9b3cc" stroke="#a9b3cc" stroke-width="0.15" textLength="53.3" lengthAdjust="spacingAndGlyphs">EMA 21 close</text>
<g transform="translate(74.6,133.2)" fill="none" stroke="#2a2a2a" stroke-width="1.0" stroke-linecap="round" stroke-linejoin="round"><path d="M-5.9,0.2C-4.4,-2.2 -2.4,-3.8 0,-3.8C2.4,-3.8 4.4,-2.2 5.9,0.2C4.4,2.6 2.4,4 0,4C-2.4,4 -4.4,2.6 -5.9,0.2Z" fill="#fff8e6" fill-opacity="0.55"/><circle cx="0" cy="0.1" r="1.2"/><path d="M-4.4,4.2L4.6,-4.2" stroke-width="1.1"/></g>
<text x="7.7" y="154.45" transform="rotate(0.02 7.7 154.45)" font-size="9.7" fill="#a9b3cc" stroke="#a9b3cc" stroke-width="0.15" textLength="47.8" lengthAdjust="spacingAndGlyphs">MA 20 close</text>
<g transform="translate(70.1,150.5)" fill="none" stroke="#2a2a2a" stroke-width="1.0" stroke-linecap="round" stroke-linejoin="round"><path d="M-5.9,0.2C-4.4,-2.2 -2.4,-3.8 0,-3.8C2.4,-3.8 4.4,-2.2 5.9,0.2C4.4,2.6 2.4,4 0,4C-2.4,4 -4.4,2.6 -5.9,0.2Z" fill="#fff8e6" fill-opacity="0.55"/><circle cx="0" cy="0.1" r="1.2"/><path d="M-4.4,4.2L4.6,-4.2" stroke-width="1.1"/></g>
<text x="7.7" y="171.80" transform="rotate(0.02 7.7 171.80)" font-size="9.7" fill="#141414" stroke="#141414" stroke-width="0.25" textLength="43.3" lengthAdjust="spacingAndGlyphs">MA 5 close</text>
<text x="58.0" y="171.80" transform="rotate(0.02 58.0 171.80)" font-size="9.7" fill="#1f4fa8" stroke="#1f4fa8" stroke-width="0.25" textLength="31.5" lengthAdjust="spacingAndGlyphs">0.70672</text>
<rect x="7.5" y="178.5" width="20.5" height="14.5" rx="2.5" fill="#fff6dc" stroke="#dcd6c4" stroke-width="1"/>
<path d="M14.8,187.6L17.8,184.6L20.8,187.6" fill="none" stroke="#222" stroke-width="1.2" stroke-linecap="round" stroke-linejoin="round"/>
<rect x="3.7" y="252.3" width="85" height="13.7" fill="#fef1cf" fill-opacity="0.6"/>
<text x="7.5" y="261.30" transform="rotate(0.02 7.5 261.30)" font-size="9.7" fill="#141414" stroke="#141414" stroke-width="0.25" textLength="49.2" lengthAdjust="spacingAndGlyphs">RSI 14 close</text>
<text x="63.3" y="261.30" transform="rotate(0.02 63.3 261.30)" font-size="9.7" fill="#8e24aa" stroke="#8e24aa" stroke-width="0.25" textLength="22.5" lengthAdjust="spacingAndGlyphs">38.24</text>
<rect x="3.7" y="318" width="113.8" height="13.6" fill="#fef1cf" fill-opacity="0.6"/>
<text x="8.0" y="326.90" transform="rotate(0.02 8.0 326.90)" font-size="9.7" fill="#141414" stroke="#141414" stroke-width="0.25" textLength="50.0" lengthAdjust="spacingAndGlyphs">Stoch 14 3 3</text>
<text x="65.8" y="326.90" transform="rotate(0.02 65.8 326.90)" font-size="9.7" fill="#2196f3" stroke="#2196f3" stroke-width="0.25" textLength="21.2" lengthAdjust="spacingAndGlyphs">11.29</text>
<text x="93.0" y="326.90" transform="rotate(0.02 93.0 326.90)" font-size="9.7" fill="#ff6d00" stroke="#ff6d00" stroke-width="0.25" textLength="22.0" lengthAdjust="spacingAndGlyphs">10.50</text>
</g>
<g id="title">
<text x="7.8" y="16.00" transform="rotate(0.02 7.8 16.00)" font-size="10.4" fill="#141414" stroke="#141414" stroke-width="0.2" textLength="85.7" lengthAdjust="spacingAndGlyphs">Australian Dollar</text>
<text x="98.2" y="16.00" transform="rotate(0.02 98.2 16.00)" font-size="10.4" fill="#141414" stroke="#141414" stroke-width="0.2" textLength="3.4" lengthAdjust="spacingAndGlyphs">/</text>
<text x="107.5" y="16.00" transform="rotate(0.02 107.5 16.00)" font-size="10.4" fill="#141414" stroke="#141414" stroke-width="0.2" textLength="19.7" lengthAdjust="spacingAndGlyphs">U.S.</text>
<text x="132.5" y="16.00" transform="rotate(0.02 132.5 16.00)" font-size="10.4" fill="#141414" stroke="#141414" stroke-width="0.2" textLength="29.5" lengthAdjust="spacingAndGlyphs">Dollar</text>
<text x="166.0" y="16.00" transform="rotate(0.02 166.0 16.00)" font-size="10.4" fill="#b5bccb" stroke="#b5bccb" stroke-width="0.25">·</text>
<text x="172.2" y="16.00" transform="rotate(0.02 172.2 16.00)" font-size="10.4" fill="#141414" stroke="#141414" stroke-width="0.2" textLength="11.9" lengthAdjust="spacingAndGlyphs">1D</text>
<text x="187.7" y="16.00" transform="rotate(0.02 187.7 16.00)" font-size="10.4" fill="#b5bccb" stroke="#b5bccb" stroke-width="0.25">·</text>
<text x="193.9" y="16.00" transform="rotate(0.02 193.9 16.00)" font-size="10.4" fill="#141414" stroke="#141414" stroke-width="0.2" textLength="26.8" lengthAdjust="spacingAndGlyphs">FXCM</text>
<text x="224.0" y="16.00" transform="rotate(0.02 224.0 16.00)" font-size="10.4" fill="#b5bccb" stroke="#b5bccb" stroke-width="0.25">·</text>
<text x="230.1" y="16.00" transform="rotate(0.02 230.1 16.00)" font-size="10.4" fill="#141414" stroke="#141414" stroke-width="0.2" textLength="61.9" lengthAdjust="spacingAndGlyphs">TradingView</text>
<circle cx="309.5" cy="12.1" r="6.2" fill="#12a08a" fill-opacity="0.2"/>
<circle cx="309.5" cy="12.1" r="3.1" fill="#12a08a"/>
<text x="328.0" y="16" transform="rotate(0.02 328.0 16)" font-size="10.4" textLength="39.8" lengthAdjust="spacingAndGlyphs" fill="#101010" stroke="#101010" stroke-width="0.15">O<tspan fill="#125530" stroke="#125530">0.69900</tspan></text>
<text x="373.0" y="16" transform="rotate(0.02 373.0 16)" font-size="10.4" textLength="38.0" lengthAdjust="spacingAndGlyphs" fill="#101010" stroke="#101010" stroke-width="0.15">H<tspan fill="#125530" stroke="#125530">0.70491</tspan></text>
<text x="417.2" y="16" transform="rotate(0.02 417.2 16)" font-size="10.4" textLength="37.5" lengthAdjust="spacingAndGlyphs" fill="#101010" stroke="#101010" stroke-width="0.15">L<tspan fill="#125530" stroke="#125530">0.69870</tspan></text>
<text x="460.2" y="16" transform="rotate(0.02 460.2 16)" font-size="10.4" textLength="38.2" lengthAdjust="spacingAndGlyphs" fill="#101010" stroke="#101010" stroke-width="0.15">C<tspan fill="#125530" stroke="#125530">0.70480</tspan></text>
<text x="503.8" y="16.00" transform="rotate(0.02 503.8 16.00)" font-size="10.4" fill="#125530" stroke="#125530" stroke-width="0.15" textLength="37.0" lengthAdjust="spacingAndGlyphs">+0.00558</text>
<text x="545.3" y="16.00" transform="rotate(0.02 545.3 16.00)" font-size="10.4" fill="#125530" stroke="#125530" stroke-width="0.15" textLength="34.0" lengthAdjust="spacingAndGlyphs">(+0.80%)</text>
</g>
<g id="notes" font-style="italic" font-weight="normal">
<text x="608.7" y="204.20" transform="rotate(0.02 608.7 204.20)" font-size="11" fill="#15131c" stroke="#15131c" stroke-width="0.45" textLength="76.3" lengthAdjust="spacingAndGlyphs">Capped below</text>
<text x="608.7" y="215.50" transform="rotate(0.02 608.7 215.50)" font-size="11" fill="#15131c" stroke="#15131c" stroke-width="0.45" textLength="33.3" lengthAdjust="spacingAndGlyphs">5-DMA</text>
<text x="595.5" y="273.70" transform="rotate(0.02 595.5 273.70)" font-size="11" fill="#20103f" stroke="#20103f" stroke-width="0.45" textLength="111.5" lengthAdjust="spacingAndGlyphs">RSI bounces off from</text>
<text x="595.5" y="285.00" transform="rotate(0.02 595.5 285.00)" font-size="11" fill="#20103f" stroke="#20103f" stroke-width="0.45" textLength="111.0" lengthAdjust="spacingAndGlyphs">near-oversold levels</text>
<text x="591.5" y="346.00" transform="rotate(0.02 591.5 346.00)" font-size="11" fill="#20103f" stroke="#20103f" stroke-width="0.45" textLength="58.5" lengthAdjust="spacingAndGlyphs">Momentum</text>
<text x="591.5" y="357.50" transform="rotate(0.02 591.5 357.50)" font-size="11" fill="#20103f" stroke="#20103f" stroke-width="0.45" textLength="40.0" lengthAdjust="spacingAndGlyphs">bearish</text>
</g>
<g id="axes">
<line x1="0" y1="245.4" x2="768" y2="245.4" stroke="#83817a" stroke-width="1.1"/>
<line x1="0" y1="311.25" x2="768" y2="311.25" stroke="#77756c" stroke-width="1.25"/>
<line x1="0" y1="379.3" x2="768" y2="379.3" stroke="#807e74" stroke-width="1.1"/>
<line x1="716.4" y1="0" x2="716.4" y2="400" stroke="#807e74" stroke-width="1.15"/>
<text x="724.0" y="27.25" transform="rotate(0.02 724.0 27.25)" font-size="9.8" fill="#141414" stroke="#141414" stroke-width="0.2" textLength="35.0" lengthAdjust="spacingAndGlyphs">0.77000</text>
<text x="724.0" y="55.82" transform="rotate(0.02 724.0 55.82)" font-size="9.8" fill="#141414" stroke="#141414" stroke-width="0.2" textLength="35.0" lengthAdjust="spacingAndGlyphs">0.76000</text>
<text x="724.0" y="84.39" transform="rotate(0.02 724.0 84.39)" font-size="9.8" fill="#141414" stroke="#141414" stroke-width="0.2" textLength="35.0" lengthAdjust="spacingAndGlyphs">0.75000</text>
<text x="724.0" y="112.96" transform="rotate(0.02 724.0 112.96)" font-size="9.8" fill="#141414" stroke="#141414" stroke-width="0.2" textLength="35.0" lengthAdjust="spacingAndGlyphs">0.74000</text>
<text x="724.0" y="141.53" transform="rotate(0.02 724.0 141.53)" font-size="9.8" fill="#141414" stroke="#141414" stroke-width="0.2" textLength="35.0" lengthAdjust="spacingAndGlyphs">0.73000</text>
<text x="724.0" y="170.10" transform="rotate(0.02 724.0 170.10)" font-size="9.8" fill="#141414" stroke="#141414" stroke-width="0.2" textLength="35.0" lengthAdjust="spacingAndGlyphs">0.72000</text>
<text x="724.0" y="198.67" transform="rotate(0.02 724.0 198.67)" font-size="9.8" fill="#141414" stroke="#141414" stroke-width="0.2" textLength="35.0" lengthAdjust="spacingAndGlyphs">0.71000</text>
<text x="724.0" y="227.24" transform="rotate(0.02 724.0 227.24)" font-size="9.8" fill="#141414" stroke="#141414" stroke-width="0.2" textLength="35.0" lengthAdjust="spacingAndGlyphs">0.70000</text>
<path d="M716,203H763.3Q764.8,203 764.8,204.5V215.4Q764.8,216.9 763.3,216.9H716Z" fill="#2e7a1f"/>
<text x="724.0" y="213.50" transform="rotate(0.02 724.0 213.50)" font-size="9.8" fill="#ffffff" stroke="#ffffff" stroke-width="0.2" textLength="35.0" lengthAdjust="spacingAndGlyphs">0.70480</text>
<text x="724.0" y="277.60" transform="rotate(0.02 724.0 277.60)" font-size="9.8" fill="#141414" stroke="#141414" stroke-width="0.2" textLength="24.5" lengthAdjust="spacingAndGlyphs">50.00</text>
<text x="724.0" y="305.50" transform="rotate(0.02 724.0 305.50)" font-size="9.8" fill="#141414" stroke="#141414" stroke-width="0.2" textLength="24.5" lengthAdjust="spacingAndGlyphs">25.00</text>
<text x="724.0" y="327.90" transform="rotate(0.02 724.0 327.90)" font-size="9.8" fill="#141414" stroke="#141414" stroke-width="0.2" textLength="24.5" lengthAdjust="spacingAndGlyphs">80.00</text>
<text x="724.0" y="354.00" transform="rotate(0.02 724.0 354.00)" font-size="9.8" fill="#141414" stroke="#141414" stroke-width="0.2" textLength="24.5" lengthAdjust="spacingAndGlyphs">40.00</text>
<text x="724.0" y="379.50" transform="rotate(0.02 724.0 379.50)" font-size="9.8" fill="#141414" stroke="#141414" stroke-width="0.2" textLength="19.5" lengthAdjust="spacingAndGlyphs">0.00</text>
<text x="30.0" y="393.80" transform="rotate(0.02 30.0 393.80)" font-size="10.4" fill="#141414" stroke="#141414" stroke-width="0.25" text-anchor="middle">Aug</text>
<text x="122.0" y="393.80" transform="rotate(0.02 122.0 393.80)" font-size="10.4" fill="#141414" stroke="#141414" stroke-width="0.25" text-anchor="middle">Sep</text>
<text x="215.0" y="393.80" transform="rotate(0.02 215.0 393.80)" font-size="10.4" fill="#141414" stroke="#141414" stroke-width="0.25" text-anchor="middle">Oct</text>
<text x="304.0" y="393.80" transform="rotate(0.02 304.0 393.80)" font-size="10.4" fill="#141414" stroke="#141414" stroke-width="0.25" text-anchor="middle">Nov</text>
<text x="397.0" y="393.80" transform="rotate(0.02 397.0 393.80)" font-size="10.4" fill="#141414" stroke="#141414" stroke-width="0.25" text-anchor="middle">Dec</text>
<text x="583.0" y="393.80" transform="rotate(0.02 583.0 393.80)" font-size="10.4" fill="#141414" stroke="#141414" stroke-width="0.25" text-anchor="middle">Feb</text>
<text x="669.0" y="393.80" transform="rotate(0.02 669.0 393.80)" font-size="10.4" fill="#141414" stroke="#141414" stroke-width="0.25" text-anchor="middle">Mar</text>
<text x="495.0" y="393.80" transform="rotate(0.02 495.0 393.80)" font-size="10.4" fill="#141414" stroke="#141414" stroke-width="0.1" font-weight="bold" text-anchor="middle">2022</text>
<g transform="translate(741.7,390)" fill="none" stroke="#222" stroke-width="1.1"><circle r="3.3"/><path d="M0,-5.6V-3.6M0,5.6V3.6M-5.6,0H-3.6M5.6,0H3.6M-4,-4L-2.6,-2.6M4,4L2.6,2.6M-4,4L-2.6,2.6M4,-4L2.6,-2.6" stroke-width="1.5"/></g>
</g>
<rect x="0" y="0" width="768" height="1" fill="#e9e9e9"/>
<rect x="0" y="0" width="1" height="400" fill="#e9e9e9"/>
</svg>
</body></html>
